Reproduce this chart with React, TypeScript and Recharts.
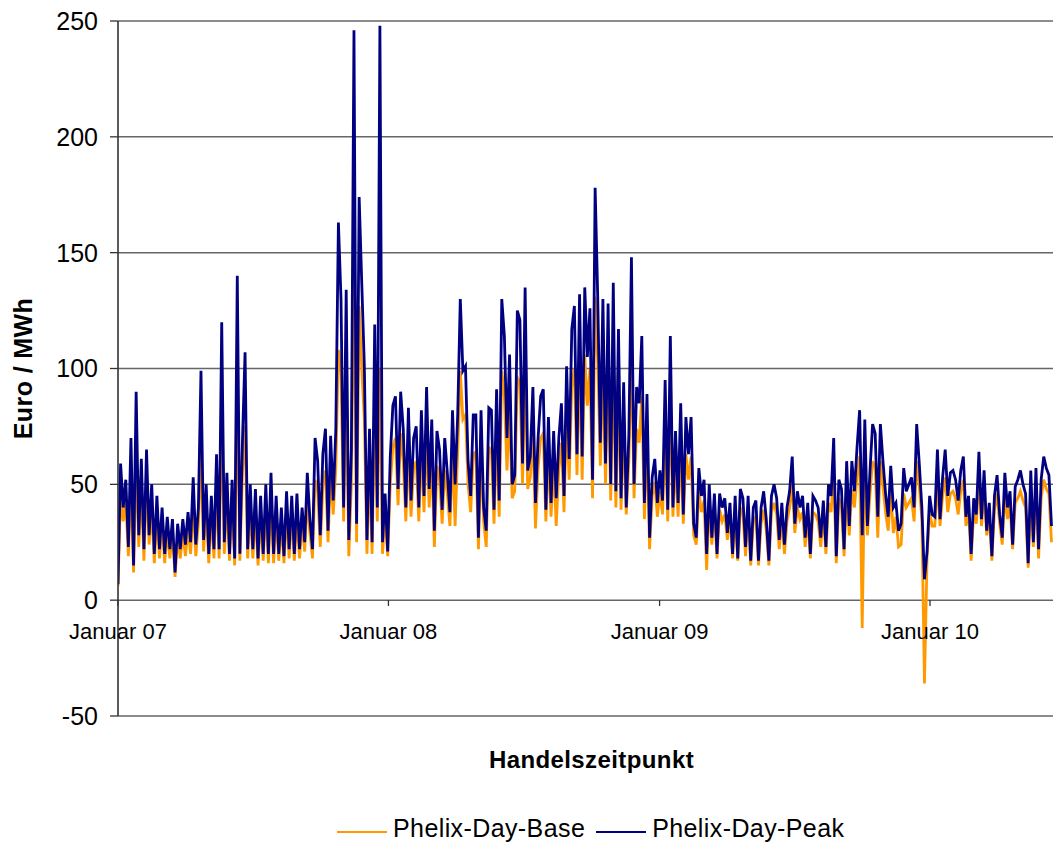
import React from 'react';
import { LineChart, Line, XAxis, YAxis, CartesianGrid, Legend } from 'recharts';

// Phelix-Day-Peak (Euro/MWh), two readings per week (weekday / weekend), Jan 2007 - Jun 2010
const peak = [
  7, 59, 40, 52, 23, 70, 15, 90, 28, 61, 22, 65, 28, 50, 20, 45, 22, 40, 20, 36,
  22, 35, 12, 33, 22, 35, 24, 38, 25, 53, 24, 40, 99, 26, 50, 20, 45, 22, 63, 22,
  120, 25, 55, 20, 52, 18, 140, 20, 69, 107, 22, 50, 22, 48, 18, 45, 20, 50, 20, 55,
  20, 45, 20, 40, 19, 47, 22, 45, 20, 46, 22, 40, 25, 55, 35, 22, 70, 60, 28, 63,
  74, 30, 71, 43, 74, 163, 130, 40, 134, 26, 65, 246, 33, 174, 137, 101, 26, 74, 25, 119,
  40, 248, 25, 46, 21, 62, 84, 88, 48, 90, 74, 40, 83, 43, 70, 75, 40, 82, 45, 92,
  48, 78, 30, 73, 65, 39, 70, 55, 38, 82, 50, 80, 130, 99, 101, 60, 45, 80, 80, 27,
  82, 40, 30, 83, 82, 39, 91, 43, 130, 114, 70, 106, 50, 54, 125, 121, 59, 135, 56, 62,
  92, 42, 70, 88, 91, 39, 79, 42, 73, 44, 70, 85, 45, 101, 61, 117, 127, 63, 132, 62,
  135, 105, 126, 52, 178, 131, 68, 130, 59, 128, 50, 137, 47, 117, 44, 94, 40, 71, 148, 50,
  92, 85, 114, 42, 89, 27, 53, 61, 42, 56, 43, 95, 39, 114, 40, 73, 42, 85, 37, 79,
  63, 79, 33, 27, 57, 45, 52, 20, 50, 27, 46, 20, 46, 40, 44, 29, 42, 20, 45, 18,
  48, 44, 23, 45, 17, 40, 43, 17, 40, 47, 35, 17, 45, 50, 44, 26, 42, 24, 40, 47,
  62, 33, 47, 40, 45, 27, 42, 20, 45, 43, 40, 27, 43, 23, 50, 45, 70, 19, 52, 48,
  22, 60, 32, 60, 47, 66, 82, 28, 78, 32, 56, 76, 72, 36, 76, 60, 46, 36, 58, 40,
  42, 30, 33, 57, 47, 50, 53, 40, 76, 59, 40, 9, 21, 45, 37, 36, 65, 35, 53, 65,
  45, 55, 56, 52, 43, 56, 62, 36, 45, 20, 44, 37, 64, 35, 56, 30, 42, 19, 45, 54,
  37, 27, 55, 40, 47, 24, 49, 52, 56, 50, 46, 16, 56, 25, 57, 22, 52, 62, 57, 54, 32,
];

// Phelix-Day-Base (Euro/MWh), same dates
const base = [
  6, 45, 34, 42, 19, 52, 12, 62, 23, 48, 17, 52, 24, 40, 16, 37, 18, 33, 16, 30,
  18, 29, 10, 27, 18, 29, 19, 31, 20, 42, 19, 33, 65, 21, 40, 16, 37, 18, 48, 18,
  82, 20, 44, 17, 42, 15, 95, 17, 55, 75, 18, 40, 18, 38, 15, 36, 17, 40, 16, 44,
  16, 36, 17, 33, 16, 38, 18, 37, 17, 37, 18, 33, 21, 44, 29, 18, 52, 47, 23, 49,
  56, 25, 55, 37, 57, 108, 98, 34, 95, 19, 50, 155, 25, 127, 100, 78, 20, 57, 20, 88,
  34, 100, 20, 38, 19, 50, 66, 70, 41, 72, 60, 34, 66, 36, 57, 60, 34, 66, 38, 72,
  40, 62, 23, 58, 52, 33, 56, 46, 32, 65, 32, 64, 99, 78, 80, 50, 38, 63, 64, 22,
  64, 34, 23, 66, 65, 33, 72, 36, 99, 88, 56, 82, 44, 47, 96, 94, 50, 104, 48, 53,
  72, 31, 57, 70, 72, 34, 63, 36, 59, 32, 57, 68, 38, 80, 52, 92, 100, 54, 104, 52,
  106, 84, 100, 44, 131, 103, 58, 102, 50, 100, 43, 107, 40, 92, 39, 75, 37, 60, 110, 44,
  74, 68, 88, 35, 70, 22, 45, 51, 36, 47, 37, 75, 34, 86, 36, 60, 36, 67, 33, 63,
  52, 62, 28, 24, 47, 38, 43, 13, 42, 24, 39, 18, 39, 34, 37, 26, 36, 18, 38, 17,
  40, 37, 19, 38, 15, 34, 36, 15, 33, 39, 30, 15, 38, 42, 37, 22, 35, 20, 34, 40,
  50, 29, 40, 35, 38, 23, 36, 18, 38, 37, 34, 23, 37, 20, 42, 38, 55, 16, 44, 40,
  19, 48, 28, 48, 40, 54, 62, -12, 62, 28, 46, 60, 57, 27, 60, 49, 38, 30, 47, 29,
  36, 23, 24, 46, 40, 42, 44, 34, 60, 49, 35, -36, 18, 38, 32, 32, 52, 32, 45, 53,
  38, 46, 47, 44, 37, 47, 52, 32, 39, 17, 38, 33, 53, 32, 47, 28, 36, 17, 39, 46,
  33, 24, 46, 35, 41, 22, 42, 44, 47, 43, 40, 14, 47, 23, 48, 18, 44, 52, 48, 46, 25,
];

const STEP_DAYS = 3.5; // days between readings, counted from 1 Jan 2007
const xTicks = [0, 365, 731, 1096];
const xTickLabels = ['Januar 07', 'Januar 08', 'Januar 09', 'Januar 10'];
const yTicks = [-50, 0, 50, 100, 150, 200, 250];

const data = peak.map((p, i) => ({ d: i * STEP_DAYS, base: base[i], peak: p }));

const FONT = '"Liberation Sans", Arial, Helvetica, sans-serif';

const XTick = (props: any) => {
  const { x, y, payload } = props;
  const i = xTicks.indexOf(payload.value);
  return (
    <g>
      <line x1={x} x2={x} y1={y - 116} y2={y - 110} stroke="#333" strokeWidth={1.3} />
      <text x={x} y={y - 77} textAnchor="middle" fontSize={22} fontFamily={FONT} fill="#000">
        {xTickLabels[i]}
      </text>
    </g>
  );
};

const YLabel = (p: any) => {
  const vb = p.viewBox;
  const cx = vb.x + 23;
  const cy = vb.y + vb.height / 2;
  return (
    <text x={cx} y={cy} transform={`rotate(-90 ${cx} ${cy})`} textAnchor="middle" dominantBaseline="central"
      fontSize={25} fontWeight="bold" fontFamily={FONT} letterSpacing={0.4} fill="#000">
      Euro / MWh
    </text>
  );
};

const XLabel = (p: any) => {
  const vb = p.viewBox;
  return (
    <text x={vb.x + vb.width / 2 + 6} y={vb.y + 52} textAnchor="middle"
      fontSize={24} fontWeight="bold" fontFamily={FONT} letterSpacing={0.4} fill="#000">
      Handelszeitpunkt
    </text>
  );
};

const lineSwatch = (color: string, ml: number) => (
  <span style={{ display: 'inline-block', width: 50, height: 0, borderTop: `2.5px solid ${color}`, marginLeft: ml, marginRight: 6, position: 'relative', top: 4 }} />
);

const LegendContent = () => (
  <div style={{ display: 'flex', alignItems: 'center', fontFamily: FONT, fontSize: 25, lineHeight: '30px', color: '#000', whiteSpace: 'nowrap' }}>
    {lineSwatch('#FF9900', 0)}
    <span style={{ letterSpacing: 0.4 }}>Phelix-Day-Base</span>
    {lineSwatch('#000080', 11)}
    <span style={{ letterSpacing: 0.4 }}>Phelix-Day-Peak</span>
  </div>
);

export default function App() {
  return (
    <div style={{ position: 'fixed', left: 0, top: 0, width: 1053, height: 844, overflow: 'hidden', background: '#fff' }}>
      <LineChart width={1053} height={844} data={data} margin={{ top: 21, right: 0, bottom: 0, left: 0 }}>
        <CartesianGrid vertical={false} stroke="#666" strokeWidth={1.5} />
        <XAxis
          type="number"
          dataKey="d"
          domain={[0, 1262]}
          ticks={xTicks}
          interval={0}
          allowDataOverflow
          axisLine={false}
          tickLine={false}
          tickSize={0}
          tickMargin={0}
          height={128}
          tick={<XTick />}
          label={{ content: XLabel }}
        />
        <YAxis
          type="number"
          domain={[-50, 250]}
          ticks={yTicks}
          interval={0}
          allowDataOverflow
          width={118}
          tickSize={8}
          tickMargin={12}
          axisLine={{ stroke: '#333', strokeWidth: 1.6 }}
          tickLine={{ stroke: '#333', strokeWidth: 1.3 }}
          tick={{ fontSize: 25, fill: '#000', fontFamily: FONT }}
          label={{ content: YLabel }}
        />
        <Legend
          layout="horizontal"
          verticalAlign="middle"
          align="center"
          content={<LegendContent />}
          wrapperStyle={{ position: 'absolute', left: 337, top: 813, width: 'auto' }}
        />
        <Line type="linear" dataKey="base" name="Phelix-Day-Base" stroke="#FF9900" strokeWidth={2.8} strokeLinejoin="miter" dot={false} activeDot={false} isAnimationActive={false} />
        <Line type="linear" dataKey="peak" name="Phelix-Day-Peak" stroke="#000080" strokeWidth={2.8} strokeLinejoin="miter" dot={false} activeDot={false} isAnimationActive={false} />
      </LineChart>
    </div>
  );
}
